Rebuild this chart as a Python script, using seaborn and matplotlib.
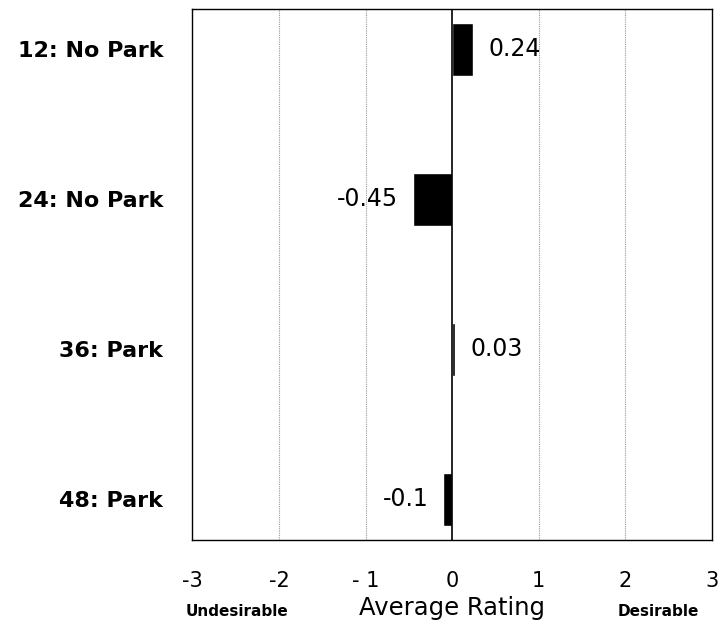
import matplotlib
matplotlib.use("Agg")
import matplotlib.pyplot as plt
import pandas as pd
import seaborn as sns

# Chart data
categories = ["12: No Park", "24: No Park", "36: Park", "48: Park"]
ratings = [0.24, -0.45, 0.03, -0.1]
rating_labels = ["0.24", "-0.45", "0.03", "-0.1"]
x_ticks = [-3, -2, -1, 0, 1, 2, 3]
x_tick_labels = ["-3", "-2", "- 1", "0", "1", "2", "3"]

df = pd.DataFrame({"scenario": categories, "rating": ratings})

sns.set_style("white")
plt.rcParams["font.family"] = ["DejaVu Sans"]
plt.rcParams["text.color"] = "black"

fig, ax = plt.subplots(figsize=(7.2, 6.25), dpi=100)
fig.subplots_adjust(left=0.267, right=0.989, top=0.986, bottom=0.136)

sns.barplot(data=df, x="rating", y="scenario", orient="h", color="black",
            width=0.35, saturation=1, ax=ax)

# dotted gridlines and solid zero line
for t in x_ticks:
    if t == 0:
        ax.axvline(t, color="black", lw=1.2, zorder=3)
    elif abs(t) < 3:
        ax.axvline(t, color="#999999", lw=0.8, ls=(0, (1, 1)), zorder=0)

ax.bar_label(ax.containers[0], labels=rating_labels, padding=11, fontsize=17,
             color="black")

ax.set_xlim(-3, 3)
ax.set_ylim(3.27, -0.27)
ax.set_xticks(x_ticks)
ax.set_xticklabels(x_tick_labels, fontsize=15)
ax.tick_params(axis="x", direction="out", length=8, width=1, pad=14, colors="black")
ax.tick_params(axis="y", length=0, pad=21, labelsize=16, colors="black")
for lab in ax.get_yticklabels():
    lab.set_fontweight("bold")

for s in ax.spines.values():
    s.set_visible(True)
    s.set_color("black")
    s.set_linewidth(1)

ax.set_ylabel("")
ax.set_xlabel("Average Rating", fontsize=17.5, labelpad=4, color="black")

fig.text(0.329, 0.022, "Undesirable", fontsize=11, fontweight="bold",
         ha="center", va="center", color="black")
fig.text(0.915, 0.022, "Desirable", fontsize=11, fontweight="bold",
         ha="center", va="center", color="black")

plt.savefig("out.png", dpi=100)
